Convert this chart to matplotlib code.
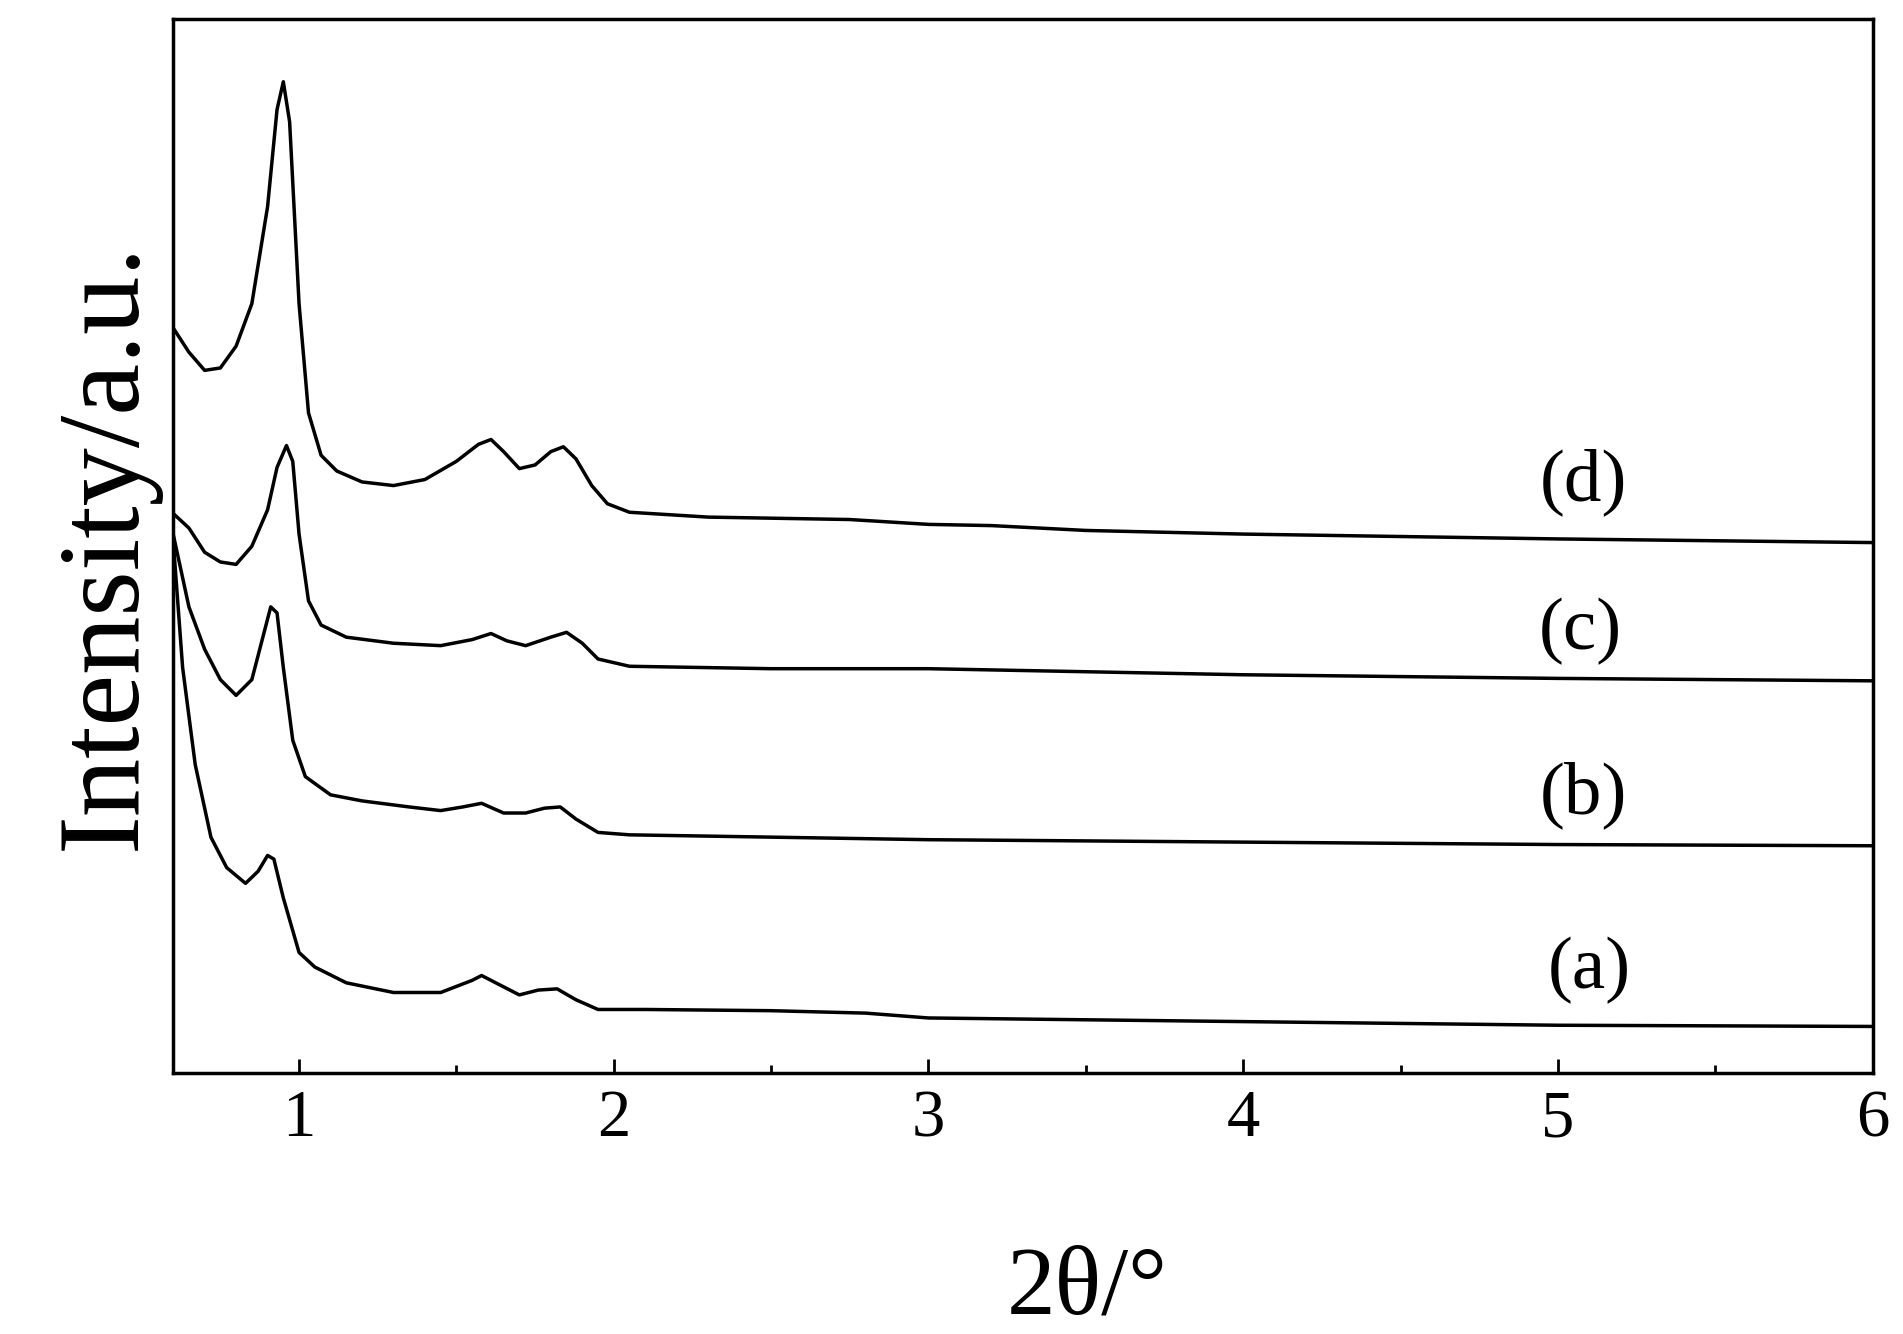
import matplotlib
matplotlib.use("Agg")
import matplotlib.pyplot as plt
from matplotlib.ticker import MultipleLocator
import numpy as np

# y values are vertical offsets (stacked display units, larger = lower)
H = 884
d_x = [0.6,0.65,0.7,0.75,0.8,0.85,0.9,0.93,0.95,0.97,1.0,1.03,1.07,1.12,1.2,1.3,1.4,1.5,1.57,1.61,1.65,1.7,1.75,1.8,1.84,1.88,1.93,1.98,2.05,2.3,2.75,3.0,3.2,3.5,4,5,6]
d_y = [270,290,305,303,285,250,170,90,67,100,250,340,375,388,397,400,395,380,366,362,372,386,383,372,368,378,400,415,422,426,428,432,433,437,440,444,447]
c_x = [0.6,0.65,0.7,0.75,0.8,0.85,0.9,0.93,0.96,0.98,1.0,1.03,1.07,1.15,1.3,1.45,1.55,1.61,1.66,1.72,1.8,1.85,1.9,1.95,2.05,2.5,3.0,3.2,4,5,6]
c_y = [423,435,455,463,465,450,420,385,367,380,440,495,515,525,530,532,527,522,528,532,525,521,530,543,549,551,551,552,556,559,561]
b_x = [0.6,0.65,0.7,0.75,0.8,0.85,0.88,0.91,0.93,0.95,0.98,1.02,1.1,1.2,1.35,1.45,1.52,1.58,1.65,1.72,1.78,1.83,1.88,1.95,2.05,3,4,5,6]
b_y = [440,500,535,560,573,560,530,500,505,550,610,640,655,660,665,668,665,662,670,670,666,665,675,686,688,692,694,696,697]
a_x = [0.6,0.63,0.67,0.72,0.77,0.83,0.87,0.9,0.92,0.95,1.0,1.05,1.15,1.3,1.45,1.55,1.58,1.64,1.7,1.76,1.82,1.88,1.95,2.1,2.5,2.8,3,4,5,6]
a_y = [445,550,630,690,715,728,718,705,708,740,785,797,810,818,818,808,804,812,820,816,815,824,832,832,833,835,839,842,845,846]
labels = ["(d)", "(c)", "(b)", "(a)"]
label_x = [5.08, 5.07, 5.08, 5.1]
label_y = [397, 520, 655, 800]

plt.rcParams["font.family"] = "Liberation Serif"
fig = plt.figure(figsize=(19.03, 13.34), dpi=100)
ax = fig.add_axes([0.091, 0.196, 0.893, 0.790])
for xs, ys in [(d_x, d_y), (c_x, c_y), (b_x, b_y), (a_x, a_y)]:
    ax.plot(xs, H - np.array(ys), color="black", lw=2.5)
for t, x, y in zip(labels, label_x, label_y):
    ax.text(x, H - y, t, fontsize=54, ha="center", va="center")
ax.set_xlim(0.6, 6)
ax.set_ylim(0, 869)
ax.set_yticks([])
ax.xaxis.set_major_locator(MultipleLocator(1))
ax.xaxis.set_minor_locator(MultipleLocator(0.5))
ax.tick_params(axis="x", which="major", direction="in", length=10, width=2, labelsize=48, pad=12)
ax.tick_params(axis="x", which="minor", direction="in", length=6, width=2)
for s in ax.spines.values():
    s.set_linewidth(2.5)
ax.set_xlabel("2θ/°", fontsize=70)
ax.xaxis.set_label_coords(0.538, -0.165)
ax.set_ylabel("Intensity/a.u.", fontsize=84, labelpad=10)
fig.savefig("out.png", dpi=100)
